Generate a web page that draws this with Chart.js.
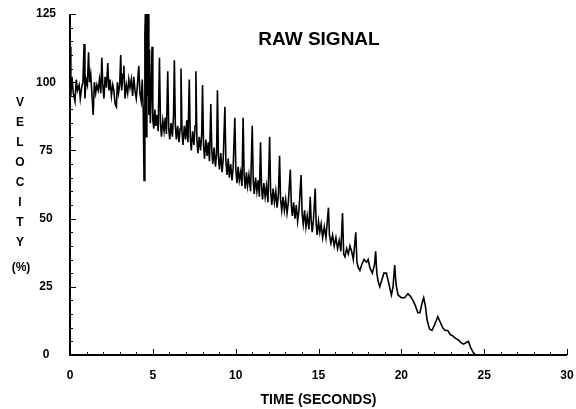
<!DOCTYPE html>
<html>
<head>
<meta charset="utf-8">
<title>Raw signal</title>
<script src="https://cdn.jsdelivr.net/npm/chart.js@4.4.1/dist/chart.umd.min.js"></script>
<style>
  html, body { margin: 0; padding: 0; background: #fff; }
  canvas { display: block; }
</style>
</head>
<body>
<canvas id="chart" width="576" height="409"></canvas>
<script>
// values (time in s, velocity in %)
const times = [
  0.00, 0.05, 0.12, 0.20, 0.30, 0.38, 0.45, 0.55, 0.62, 0.70, 0.78, 0.85, 0.90, 0.97,
  1.05, 1.12, 1.18, 1.25, 1.32, 1.40, 1.47, 1.55, 1.62, 1.70, 1.78, 1.86, 1.92, 1.98,
  2.05, 2.12, 2.20, 2.28, 2.35, 2.42, 2.50, 2.58, 2.65, 2.72, 2.80, 2.86, 2.93,
  3.00, 3.06, 3.12, 3.20, 3.25, 3.32, 3.40, 3.48, 3.55, 3.62, 3.70, 3.78, 3.85, 3.92,
  4.00, 4.07, 4.15, 4.22, 4.30, 4.36, 4.42, 4.47, 4.52, 4.56, 4.60, 4.64, 4.68, 4.72,
  4.76, 4.80, 4.85, 4.90, 4.95,
  5.00, 5.06, 5.12, 5.18, 5.25, 5.32, 5.40, 5.46, 5.52, 5.60, 5.68, 5.75, 5.82, 5.90, 5.96,
  6.02, 6.10, 6.18, 6.25, 6.30, 6.36, 6.42, 6.50, 6.58, 6.65, 6.70, 6.76, 6.82, 6.90, 6.98,
  7.05, 7.12, 7.20, 7.26, 7.32, 7.40, 7.48, 7.55, 7.60, 7.66, 7.72, 7.80, 7.88, 7.95,
  8.00, 8.06, 8.12, 8.20, 8.28, 8.35, 8.42, 8.50, 8.56, 8.62, 8.70, 8.78, 8.85, 8.90, 8.96,
  9.02, 9.10, 9.18, 9.25, 9.35, 9.41, 9.48, 9.55, 9.62, 9.70, 9.78, 9.85, 9.95,
  10.01, 10.08, 10.15, 10.22, 10.30, 10.38, 10.45, 10.51, 10.58, 10.65, 10.72, 10.80, 10.90,
  11.00, 11.06, 11.12, 11.20, 11.28, 11.36, 11.43, 11.50, 11.56, 11.62, 11.70, 11.78, 11.86, 11.95,
  12.05, 12.11, 12.18, 12.26, 12.34, 12.42, 12.50, 12.58, 12.65, 12.71, 12.78, 12.86, 12.94,
  13.02, 13.10, 13.18, 13.30, 13.36, 13.42, 13.50, 13.58, 13.66, 13.74, 13.82, 13.95,
  14.01, 14.08, 14.16, 14.24, 14.32, 14.42, 14.50, 14.56, 14.62, 14.70, 14.80, 14.86, 14.92,
  15.00, 15.08, 15.16, 15.25, 15.35, 15.45, 15.60, 15.66, 15.75, 15.85, 15.95,
  16.05, 16.15, 16.25, 16.35, 16.45, 16.52, 16.60, 16.70, 16.80, 16.90,
  17.00, 17.10, 17.25, 17.32, 17.40, 17.50, 17.60, 17.75, 17.90,
  18.00, 18.10, 18.25, 18.38, 18.45, 18.52, 18.60, 18.70, 18.80, 18.95,
  19.10, 19.25, 19.40, 19.50, 19.60, 19.68, 19.80,
  20.00, 20.20, 20.40, 20.55, 20.70, 20.85,
  21.00, 21.12, 21.25, 21.35, 21.45, 21.55, 21.70, 21.85,
  22.00, 22.20, 22.35, 22.50, 22.65, 22.80, 22.95,
  23.10, 23.30, 23.45, 23.60, 23.75, 23.90,
  24.05, 24.20, 24.35, 24.50, 24.60
];

const velocity = [
  113, 95, 102, 96, 93, 101, 97, 99, 94, 98, 100, 114, 94, 101,
  99, 111, 100, 103, 96, 88, 100, 96, 99, 97, 101, 96, 109, 99,
  94, 102, 98, 107, 97, 101, 95, 99, 97, 92, 91, 100, 96,
  99, 110, 97, 103, 106, 94, 99, 96, 101, 98, 101, 95, 102, 97,
  94, 99, 106, 96, 93, 101, 90, 64, 118, 128, 80, 132, 95, 130,
  88, 112, 85, 96, 113,
  86, 83, 90, 84, 88, 82, 109, 85, 80, 86, 82, 87, 81, 104, 83,
  79, 85, 80, 88, 108, 84, 79, 84, 78, 83, 105, 82, 77, 84, 79,
  86, 78, 101, 80, 75, 82, 77, 84, 104, 79, 74, 80, 75, 81,
  99, 77, 72, 79, 73, 78, 71, 92, 75, 70, 76, 69, 74, 97, 73,
  68, 74, 67, 72, 91, 71, 66, 72, 65, 70, 64, 69, 87,
  68, 63, 69, 64, 67, 62, 87, 66, 61, 67, 62, 66, 60,
  84, 64, 59, 65, 60, 64, 58, 78, 62, 57, 63, 58, 62, 56,
  80, 60, 55, 61, 56, 60, 54, 59, 73, 57, 53, 58, 53,
  57, 52, 56, 68, 55, 51, 56, 50, 55, 49, 53, 66,
  52, 48, 53, 47, 51, 46, 58, 49, 45, 50, 61, 48, 44,
  49, 45, 48, 43, 47, 43, 54, 44, 41, 44, 40,
  43, 39, 42, 38, 52, 37, 36, 39, 37, 40,
  38, 35, 45, 34, 32, 31, 33, 35, 34,
  35, 32, 30, 33, 38, 30, 27, 25, 27, 30,
  30, 26, 22, 25, 33, 26, 22,
  21, 21, 22.5, 21.5, 20, 18,
  15.5, 15.5, 19, 21, 18, 13, 9.5, 9,
  11, 14, 12, 10, 9, 9, 7.5,
  7, 6, 5.5, 4.5, 4, 4.5,
  5, 2.5, 0.8, 0, 0
];

const xTickLabels = [0, 5, 10, 15, 20, 25, 30];
const yTickLabels = [0, 25, 50, 75, 100, 125];
const yLabelLetters = ["V", "E", "L", "O", "C", "I", "T", "Y"];

const boldFont = "'Liberation Sans', Arial, sans-serif";

// axis lines with inward tick marks, like the original plot
const inwardAxes = {
  id: "inwardAxes",
  afterDatasetsDraw(chart) {
    const { ctx, chartArea: area, scales: { x, y } } = chart;
    ctx.save();
    ctx.strokeStyle = "#000";
    ctx.lineWidth = 2;
    ctx.beginPath();
    ctx.moveTo(area.left, area.top);
    ctx.lineTo(area.left, area.bottom);
    ctx.lineTo(area.right, area.bottom);
    ctx.stroke();

    ctx.lineWidth = 1;
    ctx.beginPath();
    x.ticks.forEach((t) => {
      const px = Math.round(x.getPixelForValue(t.value)) + 0.5;
      const len = xTickLabels.includes(t.value) ? 6 : 3;
      ctx.moveTo(px, area.bottom);
      ctx.lineTo(px, area.bottom - len);
    });
    y.ticks.forEach((t) => {
      const py = Math.round(y.getPixelForValue(t.value)) + 0.5;
      const len = yTickLabels.includes(t.value) ? 6 : 3;
      ctx.moveTo(area.left, py);
      ctx.lineTo(area.left + len, py);
    });
    ctx.stroke();
    ctx.restore();
  },
  afterDraw(chart) {
    const { ctx } = chart;
    ctx.save();
    ctx.fillStyle = "#000";
    ctx.textAlign = "center";
    ctx.textBaseline = "middle";

    ctx.font = `bold 19px ${boldFont}`;
    ctx.fillText("RAW SIGNAL", 319, 40);

    ctx.font = `bold 12px ${boldFont}`;
    yLabelLetters.forEach((letter, i) => {
      ctx.fillText(letter, 20, 103 + i * 20);
    });
    ctx.fillText("(%)", 21, 268);
    ctx.restore();
  },
};

new Chart(document.getElementById("chart"), {
  type: "line",
  data: {
    datasets: [
      {
        data: times.map((t, i) => ({ x: t, y: velocity[i] })),
        borderColor: "#000",
        borderWidth: 1.6,
        pointRadius: 0,
        tension: 0,
        fill: false,
      },
    ],
  },
  options: {
    responsive: false,
    animation: false,
    devicePixelRatio: 1,
    layout: { padding: { left: 0, right: 9, top: 14, bottom: 0 } },
    plugins: { legend: { display: false }, tooltip: { enabled: false } },
    scales: {
      x: {
        type: "linear",
        min: 0,
        max: 30,
        border: { display: false },
        grid: { display: false, drawTicks: false },
        ticks: {
          stepSize: 1,
          autoSkip: false,
          maxRotation: 0,
          padding: 13,
          color: "#000",
          font: { family: boldFont, size: 12, weight: "bold" },
          callback: (v) => (xTickLabels.includes(v) ? v : ""),
        },
        title: {
          display: true,
          text: "TIME (SECONDS)",
          color: "#000",
          padding: { top: 0, bottom: 2 },
          font: { family: boldFont, size: 14, weight: "bold", lineHeight: 1 },
        },
        afterFit: (s) => {
          s.height = 54;
          s.paddingLeft = 0;
          s.paddingRight = 0;
        },
      },
      y: {
        min: 0,
        max: 125,
        border: { display: false },
        grid: { display: false, drawTicks: false },
        ticks: {
          stepSize: 5,
          autoSkip: false,
          crossAlign: "center",
          padding: 14,
          color: "#000",
          font: { family: boldFont, size: 12, weight: "bold" },
          callback: (v) => (yTickLabels.includes(v) ? v : ""),
        },
        afterFit: (s) => {
          s.width = 70;
          s.paddingTop = 0;
          s.paddingBottom = 0;
        },
      },
    },
  },
  plugins: [inwardAxes],
});
</script>
</body>
</html>
